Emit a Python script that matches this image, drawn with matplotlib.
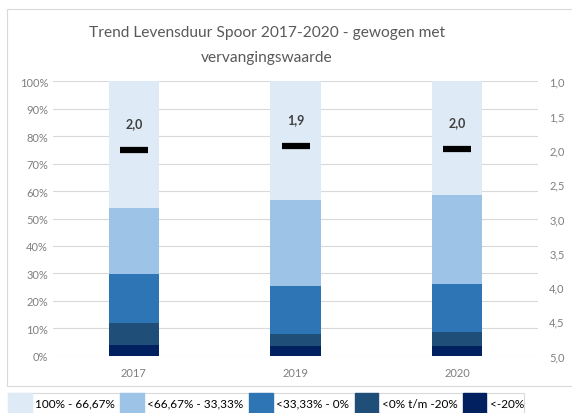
import matplotlib
matplotlib.use("Agg")
import matplotlib.pyplot as plt
from matplotlib.patches import Rectangle

plt.rcParams['font.family'] = ['Lato', 'DejaVu Sans']

# data
years = ['2017', '2019', '2020']
klassen = ['100% - 66,67%', '<66,67% - 33,33%', '<33,33% - 0%', '<0% t/m -20%', '<-20%']
# shares per class, bottom class (<-20%) first
onder_20 = [3.8, 3.7, 3.4]
nul_tot_20 = [8.1, 4.2, 5.1]
tot_33 = [17.9, 17.4, 17.6]
tot_67 = [24.0, 31.6, 32.4]
boven_67 = [46.2, 43.1, 41.5]
levensduur = [2.00, 1.94, 1.98]

kleuren = ['#deebf7', '#9dc3e6', '#2e75b6', '#1f4e79', '#002060']

fig = plt.figure(figsize=(5.72, 4.14), dpi=100)
fig.patches.append(Rectangle((7 / 572, 1 - 387 / 414), 1.0, 377 / 414,
                             transform=fig.transFigure, fill=False,
                             edgecolor='#d9d9d9', linewidth=0.8))

ax = fig.add_axes([53 / 572, 57.3 / 414, 485 / 572, 274.4 / 414])
x = range(len(years))
lagen = [onder_20, nul_tot_20, tot_33, tot_67, boven_67]
kleur_lagen = kleuren[::-1]
bottom = [0, 0, 0]
for vals, c in zip(lagen, kleur_lagen):
    ax.bar(x, vals, 0.31, bottom=bottom, color=c, zorder=2)
    bottom = [b + v for b, v in zip(bottom, vals)]

ax.set_xlim(-0.5, 2.5)
ax.set_ylim(0, 100)
ax.set_yticks(range(0, 101, 10))
ax.set_yticklabels(['%d%%' % v for v in range(0, 101, 10)])
ax.set_xticks(list(x))
ax.set_xticklabels(years)
ax.grid(axis='y', color='#d9d9d9', linewidth=0.8, zorder=0)
ax.tick_params(length=0, colors='#7f7f7f', labelsize=8)
ax.tick_params(axis='x', pad=8)
for s in ax.spines.values():
    s.set_visible(False)

ax2 = ax.twinx()
ax2.set_ylim(5, 1)
ax2.set_yticks([1 + 0.5 * i for i in range(9)])
ax2.set_yticklabels([('%.1f' % (1 + 0.5 * i)).replace('.', ',') for i in range(9)])
ax2.tick_params(length=0, colors='#7f7f7f', labelsize=8, pad=8)
for s in ax2.spines.values():
    s.set_visible(False)
ax2.plot(list(x), levensduur, linestyle='none', marker='_', markersize=20,
         markeredgewidth=4.5, color='black', zorder=5)
for xi, v in zip(x, levensduur):
    ax2.annotate(('%.1f' % v).replace('.', ','), (xi, v), xytext=(0, 19),
                 textcoords='offset points', ha='center', va='center',
                 fontsize=9, fontweight='bold', color='#404040')

fig.text(267 / 572, 1 - 33 / 414, 'Trend Levensduur Spoor 2017-2020 - gewogen met',
         ha='center', va='center', fontsize=11.2, color='#595959')
fig.text(267 / 572, 1 - 58 / 414, 'vervangingswaarde',
         ha='center', va='center', fontsize=11.2, color='#595959')

handles = [Rectangle((0, 0), 1, 1, color=c) for c in kleuren]
leg = fig.legend(handles, klassen, loc='upper left', ncol=5,
                 bbox_to_anchor=(8 / 572, 1 - 394 / 414), frameon=True,
                 fancybox=False, edgecolor='#d0d0d0', fontsize=8.5,
                 handlelength=2.0, handleheight=2.2, handletextpad=0.3,
                 columnspacing=0.45, borderpad=0.0, borderaxespad=0)
leg.get_frame().set_linewidth(0.8)

fig.savefig('out.png', dpi=100)
